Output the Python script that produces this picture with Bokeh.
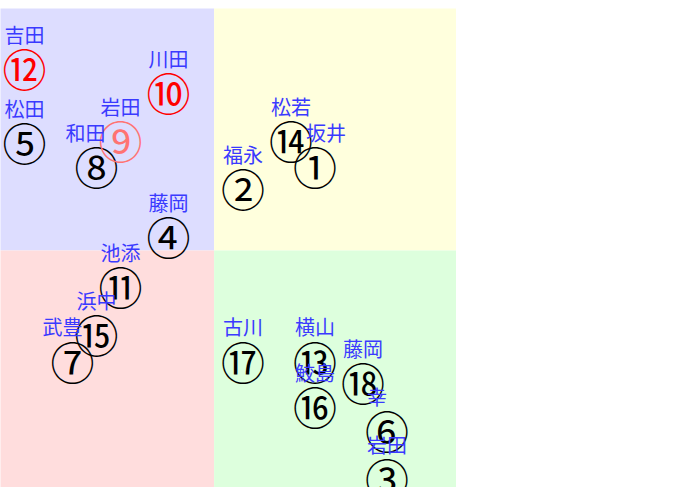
from bokeh.plotting import figure
from bokeh.models import ColumnDataSource, Range1d
from bokeh.core.properties import value
from bokeh.embed import file_html
from bokeh.resources import INLINE

# Data: horse number, jockey name, position (x, y) in the quadrant chart
numbers = list(range(1, 19))
marks = ["①", "②", "③", "④", "⑤", "⑥", "⑦", "⑧", "⑨",
         "⑩", "⑪", "⑫", "⑬", "⑭", "⑮", "⑯", "⑰", "⑱"]
names = ["坂井", "福永", "岩田", "藤岡", "松田", "幸", "武豊", "和田", "岩田",
         "川田", "池添", "吉田", "横山", "松若", "浜中", "鮫島", "古川", "藤岡"]
xs = [4.2, 1.2, 7.2, -1.9, -7.9, 7.2, -5.9, -4.9, -3.9,
      -1.9, -3.9, -7.9, 4.2, 3.2, -4.9, 4.2, 1.2, 6.2]
ys = [3.5, 2.6, -9.5, 0.6, 4.5, -7.5, -4.6, 3.5, 4.6,
      6.6, -1.5, 7.6, -4.6, 4.6, -3.5, -6.5, -4.6, -5.5]
highlight = {10: "#ff0000", 12: "#ff0000", 9: "#ff7373"}
label_shift = {1: 11, 7: -10, 8: -11}

mark_colors = [highlight.get(n, "#000000") for n in numbers]
label_dx = [-20 + label_shift.get(n, 0) for n in numbers]

src = ColumnDataSource(dict(x=xs, y=ys, mark=marks, name=names,
                            color=mark_colors, dx=label_dx))

p = figure(width=456, height=479, output_backend="svg", toolbar_location=None,
           x_range=Range1d(-8.9, 10.1), y_range=Range1d(-9.875, 10.083),
           min_border=0, min_border_left=0, min_border_right=0,
           min_border_top=0, min_border_bottom=0)
p.axis.visible = False
p.grid.visible = False
p.outline_line_color = None
p.background_fill_color = "white"
p.border_fill_color = "white"
p.styles = {"margin-top": "8px"}

# quadrants
p.quad(left=[-20, 0, -20, 0], right=[0, 20, 0, 20],
       bottom=[0, 0, -20, -20], top=[20, 20, 0, 0],
       fill_color=["#ddddff", "#ffffdd", "#ffdddd", "#ddffdd"],
       line_color=None)

p.text(x="x", y="y", text="mark", source=src, text_color="color",
       text_font=value("Noto Sans CJK JP"), text_font_size="44px",
       text_align="center", text_baseline="middle")

p.text(x="x", y="y", text="name", source=src, text_color="#3a3aff",
       text_font=value("Noto Sans CJK JP"), text_font_size="20px",
       text_align="left", text_baseline="middle",
       x_offset="dx", y_offset=-34)

open("out.html", "w").write(file_html(p, INLINE))
